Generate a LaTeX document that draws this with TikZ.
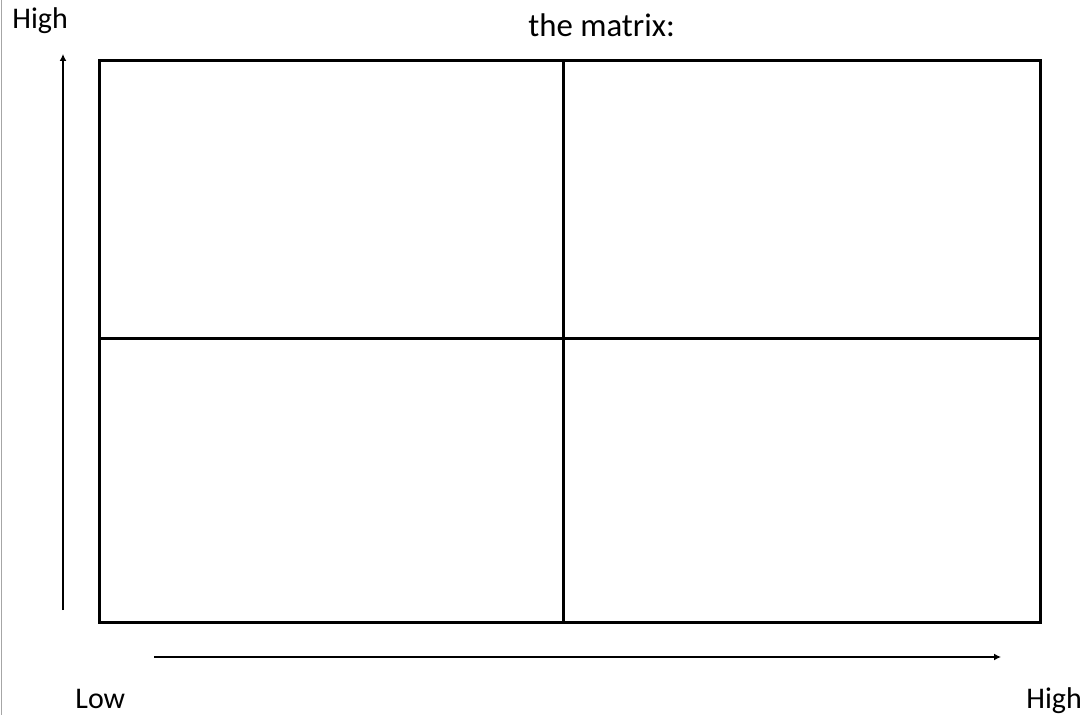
\documentclass[tikz,border=0pt]{standalone}
\usepackage{fontspec}
\setmainfont{Carlito}
\usetikzlibrary{arrows.meta}
\tikzset{
  label/.style={
    inner sep=0pt,
    anchor=base west,
    font=\fontsize{15}{18}\selectfont
  },
  title/.style={label, font=\fontsize{16.4}{19}\selectfont},
  grid/.style={black, line width=1.5pt},
  axis/.style={-{Latex[length=3.5pt,width=3.5pt]}, line width=0.7pt},
  margin/.style={gray!70, line width=0.6pt}
}

\begin{document}
\begin{tikzpicture}[x=0.5pt, y=-0.5pt]
  \useasboundingbox (0,0) rectangle (1092,715);
  \draw[margin] (1.5,0) -- (1.5,715);
  % labels
  \node[label] (ytop)  at (12,29)   {High};
  \node[title] (title) at (528,37)  {the matrix:};
  \node[label] (xlow)  at (75,708)  {Low};
  \node[label] (xtop)  at (1026,708) {High};
  % the four cells
  \coordinate (nw) at (99,61);
  \coordinate (se) at (1040,622);
  \draw[grid] (nw) rectangle (se);
  \draw[grid] (563,61) -- (563,622);
  \draw[grid] (99,339) -- (1040,339);
  % axes
  \coordinate (ystart) at (63,610);
  \coordinate (yend)   at (63,54);
  \coordinate (xstart) at (154,657);
  \coordinate (xend)   at (1001,657);
  \draw[axis] (ystart) -- (yend);
  \draw[axis] (xstart) -- (xend);
\end{tikzpicture}
\end{document}
